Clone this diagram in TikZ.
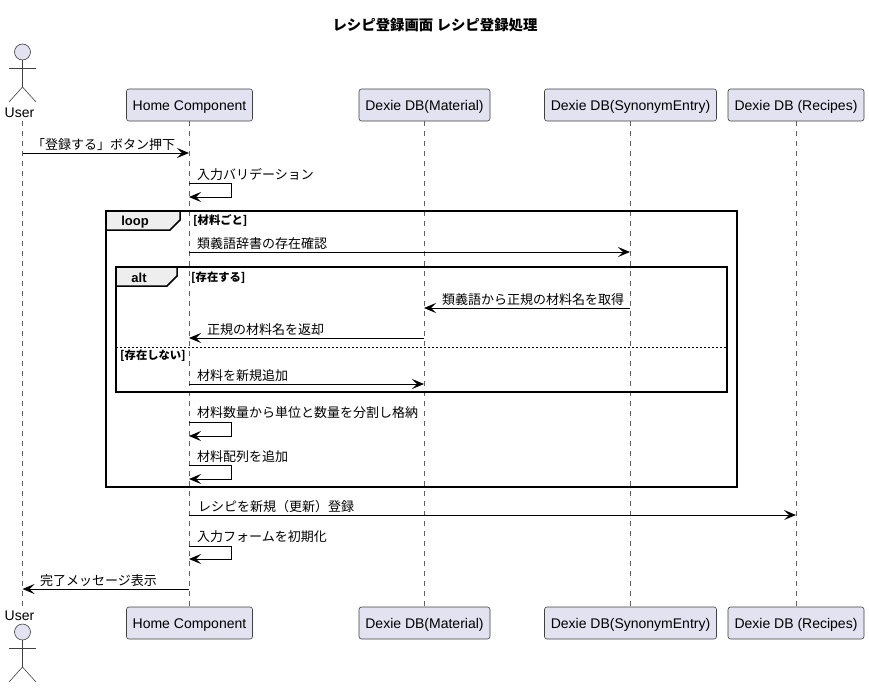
\documentclass[tikz,border=0pt]{standalone}
\usepackage{fontspec}
\setmainfont{Liberation Sans}
\newfontfamily\cjk{Noto Sans CJK JP}
\usetikzlibrary{arrows.meta}
\definecolor{partfill}{HTML}{E2E2F0}
\definecolor{partline}{HTML}{404040}
\definecolor{lifegray}{HTML}{606060}
\definecolor{tabfill}{HTML}{EEEEEE}
\begin{document}
\begin{tikzpicture}[x=1pt,y=-1pt]
	\tikzset{
		part/.style={draw=partline, fill=partfill, line width=0.6pt, rounded corners=2.5pt, minimum height=32pt, inner sep=0pt, text height=10pt, text depth=0pt, font=\fontsize{14}{16}\selectfont},
		actorlabel/.style={inner sep=0pt, font=\fontsize{14}{16}\selectfont},
		actorhead/.style={circle, draw=partline, fill=partfill, line width=0.6pt, minimum size=16pt, inner sep=0pt},
		actorline/.style={draw=partline, line width=0.6pt},
		lifeline/.style={draw=lifegray, line width=0.5pt, dash pattern=on 5pt off 5pt},
		msg/.style={draw=black, line width=1pt, -{Stealth[length=12pt,width=10pt,inset=5pt]}},
		msgtext/.style={anchor=west, inner sep=0pt, font=\cjk\fontsize{13}{15}\selectfont},
		grouptext/.style={anchor=west, inner sep=0pt, font=\cjk\bfseries\fontsize{11.3}{13}\selectfont},
		grouplabel/.style={inner sep=0pt, font=\bfseries\fontsize{13}{15}\selectfont},
		groupframe/.style={draw=black, line width=2pt},
		grouptab/.style={draw=black, fill=tabfill, line width=1.5pt}
	}
	\useasboundingbox (0,0) rectangle (869,688);

	% Title
	\node[inner sep=0pt, font=\cjk\bfseries\fontsize{14.4}{16}\selectfont] (title) at (435,25) {レシピ登録画面 レシピ登録処理};

	% Top row
	\node[actorlabel, minimum height=16pt] (usertop) at (19.5,113) {User};
	\node[part, minimum width=126pt] (hometop) at (189.5,105) {Home Component};
	\node[part, minimum width=131pt] (mattop) at (424.5,105) {Dexie DB(Material)};
	\node[part, minimum width=172pt] (syntop) at (630.5,105) {Dexie DB(SynonymEntry)};
	\node[part, minimum width=136pt] (rectop) at (796,105) {Dexie DB (Recipes)};

	% Bottom row
	\node[actorlabel, minimum height=20pt] (userbot) at (19.5,616) {User};
	\node[part, minimum width=126pt] (homebot) at (189.5,623) {Home Component};
	\node[part, minimum width=131pt] (matbot) at (424.5,623) {Dexie DB(Material)};
	\node[part, minimum width=172pt] (synbot) at (630.5,623) {Dexie DB(SynonymEntry)};
	\node[part, minimum width=136pt] (recbot) at (796,623) {Dexie DB (Recipes)};

	% Actor on top
	\node[actorhead] (headtop) at (22.5,52) {};
	\coordinate (hiptop) at (22.5,87);
	\draw[actorline] (headtop.south) -- (hiptop);
	\draw[actorline] (9,68) -- (36,68);
	\draw[actorline] (9,102) -- (hiptop) -- (36,102);

	% Actor at the bottom
	\node[actorhead] (headbot) at (22.5,632) {};
	\coordinate (hipbot) at (22.5,667);
	\draw[actorline] (headbot.south) -- (hipbot);
	\draw[actorline] (9,648) -- (36,648);
	\draw[actorline] (9,682) -- (hipbot) -- (36,682);

	% Lifelines
	\draw[lifeline] (headtop.south |- usertop.south) -- (headbot.north |- userbot.north);
	\draw[lifeline] (hometop.south) -- (homebot.north);
	\draw[lifeline] (mattop.south) -- (matbot.north);
	\draw[lifeline] (syntop.south) -- (synbot.north);
	\draw[lifeline] (rectop.south) -- (recbot.north);

	% Loop frame
	\draw[groupframe] (106,211) rectangle (737,487);
	\draw[grouptab] (106,211) -- (180,211) -- (180,220) -- (170,230) -- (106,230) -- cycle;
	\node[grouplabel] (looplabel) at (135,222) {loop};
	\node[grouptext] (loopcond) at (193,221) {[材料ごと]};

	% Alt frame
	\draw[groupframe] (116,267) rectangle (727,392);
	\draw[grouptab] (116,267) -- (177,267) -- (177,276) -- (167,286) -- (116,286) -- cycle;
	\node[grouplabel] (altlabel) at (139,277.5) {alt};
	\node[grouptext] (altcond) at (191,277.5) {[存在する]};
	\draw[draw=black, line width=1pt, dash pattern=on 2pt off 2pt] (116,347) -- (727,347);
	\node[grouptext] (elsecond) at (120,355.5) {[存在しない]};

	% Button press
	\coordinate (press1) at (22.5,153);
	\coordinate (press2) at (189,153);
	\draw[msg] (press1) -- (press2);
	\node[msgtext] (presstext) at (32,145) {「登録する」ボタン押下};

	% Validation
	\coordinate (valid1) at (189,183);
	\coordinate (valid2) at (189,197);
	\draw[msg] (valid1) -- ++(42,0) |- (valid2);
	\node[msgtext] (validtext) at (197,175) {入力バリデーション};

	% Dictionary check
	\coordinate (check1) at (189,252);
	\coordinate (check2) at (630,252);
	\draw[msg] (check1) -- (check2);
	\node[msgtext] (checktext) at (197,244) {類義語辞書の存在確認};

	% Fetch name
	\coordinate (fetch1) at (630,308);
	\coordinate (fetch2) at (424,308);
	\draw[msg] (fetch1) -- (fetch2);
	\node[msgtext] (fetchtext) at (442,300) {類義語から正規の材料名を取得};

	% Return name
	\coordinate (back1) at (424,338);
	\coordinate (back2) at (189,338);
	\draw[msg] (back1) -- (back2);
	\node[msgtext] (backtext) at (207,330) {正規の材料名を返却};

	% Add material
	\coordinate (addmat1) at (189,384);
	\coordinate (addmat2) at (424,384);
	\draw[msg] (addmat1) -- (addmat2);
	\node[msgtext] (addmattext) at (197,376) {材料を新規追加};

	% Split quantity
	\coordinate (split1) at (189,422);
	\coordinate (split2) at (189,436);
	\draw[msg] (split1) -- ++(42,0) |- (split2);
	\node[msgtext] (splittext) at (197,413) {材料数量から単位と数量を分割し格納};

	% Append to array
	\coordinate (append1) at (189,465);
	\coordinate (append2) at (189,479);
	\draw[msg] (append1) -- ++(42,0) |- (append2);
	\node[msgtext] (appendtext) at (197,457) {材料配列を追加};

	% Save recipe
	\coordinate (save1) at (189,515);
	\coordinate (save2) at (796,515);
	\draw[msg] (save1) -- (save2);
	\node[msgtext] (savetext) at (198,507) {レシピを新規（更新）登録};

	% Reset form
	\coordinate (reset1) at (189,546);
	\coordinate (reset2) at (189,559);
	\draw[msg] (reset1) -- ++(42,0) |- (reset2);
	\node[msgtext] (resettext) at (197,537) {入力フォームを初期化};

	% Done message
	\coordinate (done1) at (189,589);
	\coordinate (done2) at (22.5,589);
	\draw[msg] (done1) -- (done2);
	\node[msgtext] (donetext) at (40,581) {完了メッセージ表示};
\end{tikzpicture}
\end{document}
